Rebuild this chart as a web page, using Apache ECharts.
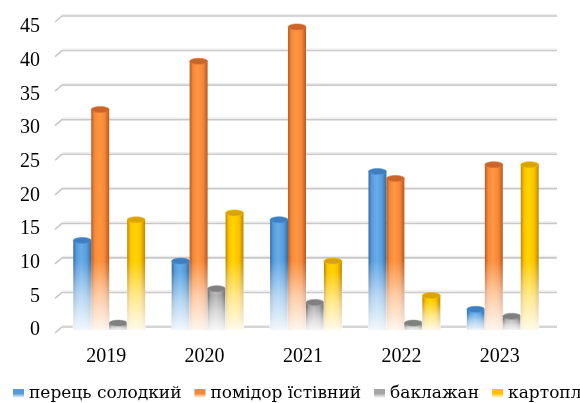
<!DOCTYPE html>
<html>
<head>
<meta charset="utf-8">
<script src="https://cdn.jsdelivr.net/npm/echarts@6/dist/echarts.min.js"></script>
<style>
  html, body { margin: 0; padding: 0; background: #fff; }
  #chart { width: 580px; height: 403px; }
</style>
</head>
<body>
<div id="chart"></div>
<script>
// Years on the category axis
const years = ['2019', '2020', '2021', '2022', '2023'];
// Crop names (legend)
const seriesNames = ['перець солодкий', 'помідор їстівний', 'баклажан', 'картопля'];
// Values per crop, one per year
const pepper   = [13, 10, 16, 23, 3];
const tomato   = [32, 39, 44, 22, 24];
const eggplant = [1, 6, 4, 1, 2];
const potato   = [16, 17, 10, 5, 24];
// Value-axis ticks
const yTicks = [0, 5, 10, 15, 20, 25, 30, 35, 40, 45];

const seriesValues = [pepper, tomato, eggplant, potato];
const baseColors = ['#5b9bd5', '#f5873a', '#a5a5a5', '#ffc000'];
const edgeColors = ['#2f6ea8', '#b85a1c', '#6e6e6e', '#b78a00'];
const capColors  = ['#3f7fbf', '#c9652a', '#808080', '#d9a300'];
// Digits in Liberation Serif; Cyrillic needs a serif face that carries it
const FONT = '"Liberation Serif", serif';
const CYR_FONT = '"DejaVu Serif", serif';

const chart = echarts.init(document.getElementById('chart'), null, { renderer: 'canvas' });

function cylinder(seriesIdx) {
  return function (params, api) {
    const cat = api.value(0);
    const val = api.value(1);
    const topPt = api.coord([cat, val]);
    const basePt = api.coord([cat, 0]);
    const band = api.size([1, 0])[0];
    const w = band * 0.73 / 4;
    const cx = topPt[0] + (seriesIdx - 1.5) * w;
    const x = cx - w / 2;
    const top = topPt[1];
    const base = basePt[1];
    const h = Math.max(base - top, 0.5);
    const fade = Math.min(70, h * 0.85);
    const fs = Math.max(0, Math.min(1, 1 - fade / h));
    const c = baseColors[seriesIdx];
    const e = edgeColors[seriesIdx];
    const ry = 3;
    return {
      type: 'group',
      children: [
        {
          type: 'rect',
          shape: { x: x, y: top, width: w, height: h },
          style: {
            fill: new echarts.graphic.LinearGradient(0, 0, 1, 0, [
              { offset: 0, color: e },
              { offset: 0.18, color: c },
              { offset: 0.45, color: echarts.color.lift(c, -0.12) },
              { offset: 0.75, color: c },
              { offset: 1, color: e }
            ])
          }
        },
        {
          type: 'rect',
          shape: { x: x - 0.5, y: top, width: w + 1, height: h + 1 },
          style: {
            fill: new echarts.graphic.LinearGradient(0, 0, 0, 1, [
              { offset: 0, color: 'rgba(255,255,255,0)' },
              { offset: fs, color: 'rgba(255,255,255,0)' },
              { offset: fs + (1 - fs) * 0.5, color: 'rgba(255,255,255,0.55)' },
              { offset: 1, color: 'rgba(255,255,255,0.93)' }
            ])
          }
        },
        {
          type: 'ellipse',
          shape: { cx: cx, cy: top, rx: w / 2, ry: ry },
          style: {
            fill: capColors[seriesIdx],
            stroke: echarts.color.lift(capColors[seriesIdx], -0.15),
            lineWidth: 0.6
          }
        }
      ]
    };
  };
}

const barSeries = seriesNames.map(function (name, i) {
  return {
    name: name,
    type: 'custom',
    xAxisIndex: 0,
    yAxisIndex: 0,
    z: 3,
    renderItem: cylinder(i),
    itemStyle: { color: baseColors[i] },
    encode: { x: 0, y: 1 },
    data: seriesValues[i].map(function (v, k) { return [k, v]; })
  };
});

// Back-wall grid lines with a short slanted side-wall segment on the left
const gridSeries = {
  type: 'custom',
  xAxisIndex: 1,
  yAxisIndex: 1,
  z: 1,
  silent: true,
  renderItem: function (params, api) {
    const p0 = api.coord([0, api.value(1)]);
    const p1 = api.coord([1, api.value(1)]);
    return {
      type: 'group',
      children: [
        {
          type: 'polyline',
          shape: { points: [[p0[0] - 7, p0[1] + 6], [p0[0], p0[1]], [p1[0], p1[1]]] },
          style: { stroke: '#c8c8c8', lineWidth: 1.6, fill: null }
        },
        {
          type: 'line',
          shape: { x1: p0[0], y1: p0[1] - 1.5, x2: p1[0], y2: p1[1] - 1.5 },
          style: { stroke: '#ececec', lineWidth: 1.2 }
        }
      ]
    };
  },
  encode: { x: 0, y: 1 },
  data: yTicks.map(function (t) { return [0, t]; })
};

const legendText = { fontFamily: CYR_FONT, fontSize: 17, color: '#000' };
const legendData = seriesNames.map(function (name, i) {
  return {
    name: name,
    icon: 'rect',
    itemStyle: {
      color: new echarts.graphic.LinearGradient(0, 0, 0, 1, [
        { offset: 0, color: baseColors[i] },
        { offset: 0.5, color: baseColors[i] },
        { offset: 1, color: '#ffffff' }
      ])
    }
  };
});

chart.setOption({
  animation: false,
  backgroundColor: '#ffffff',
  grid: [
    { left: 60, right: 28, top: 20, bottom: 73 },
    { left: 62, right: 23, top: 16, bottom: 76 },
    { left: 60, right: 28, top: 27, bottom: 73 }
  ],
  legend: {
    data: legendData,
    left: 13,
    top: 385,
    width: 900,
    itemWidth: 11,
    itemHeight: 9,
    itemGap: 13,
    padding: 0,
    textStyle: legendText
  },
  xAxis: [
    {
      type: 'category',
      gridIndex: 0,
      data: years,
      axisLine: { show: false },
      axisTick: { show: false },
      axisLabel: {
        fontFamily: FONT, fontSize: 20, color: '#000', margin: 17,
        padding: [0, 6, 0, 0]
      }
    },
    { type: 'value', gridIndex: 1, min: 0, max: 1, show: false },
    { type: 'value', gridIndex: 2, min: 0, max: 1, show: false }
  ],
  yAxis: [
    { type: 'value', gridIndex: 0, min: 0, max: 45, interval: 5, show: false },
    { type: 'value', gridIndex: 1, min: 0, max: 45, interval: 5, show: false },
    {
      type: 'value', gridIndex: 2, min: 0, max: 45, interval: 5,
      axisLine: { show: false },
      axisTick: { show: false },
      splitLine: { show: false },
      axisLabel: { fontFamily: FONT, fontSize: 20, color: '#000', margin: 20 }
    }
  ],
  series: [gridSeries].concat(barSeries)
});
</script>
</body>
</html>
